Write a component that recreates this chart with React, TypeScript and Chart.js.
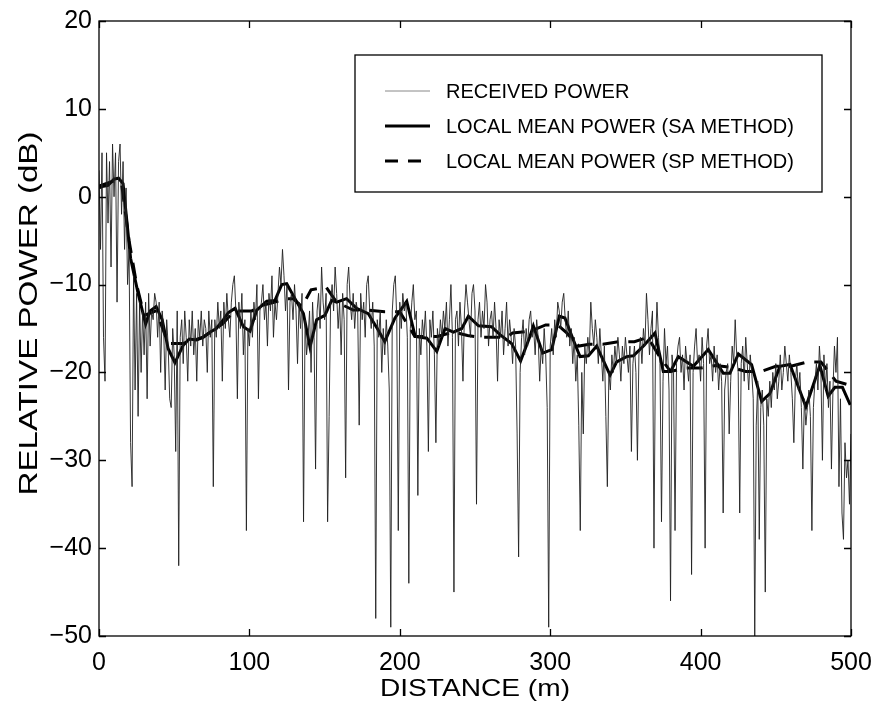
import React, { useEffect, useRef } from 'react';
import { Chart, registerables } from 'chart.js';

Chart.register(...registerables);

// ---------------- data ----------------
const xTickValues = [0, 100, 200, 300, 400, 500];
const yTickValues = [-50, -40, -30, -20, -10, 0, 10, 20];
const xTitle = 'DISTANCE (m)';
const yTitle = 'RELATIVE POWER (dB)';
const seriesLabels = [
  'RECEIVED POWER',
  'LOCAL MEAN POWER (SA METHOD)',
  'LOCAL MEAN POWER (SP METHOD)',
];

// received power, one sample per metre, 0 .. 500 m
const sampleSpacing = 1;
const receivedPower = [
  3, -6, 5, -16, -21, 5, -3, 4, -8, 6,
  0, 5, -12, 4, 6, -2, 4, -6, 1, -10,
  -6, -28, -33, -9, -22, -11, -25, -12, -20, -13,
  -18, -12, -23, -11, -17, -13, -14, -11, -12, -16,
  -12, -20, -13, -15, -22, -14, -17, -23, -24, -15,
  -18, -29, -13, -42, -16, -14, -19, -13, -16, -21,
  -14, -17, -13, -18, -15, -21, -14, -16, -13, -17,
  -14, -15, -20, -13, -16, -14, -33, -14, -16, -12,
  -15, -13, -21, -12, -15, -11, -14, -16, -12, -10,
  -9, -13, -23, -12, -15, -11, -18, -14, -38, -15,
  -17, -13, -16, -12, -14, -10, -23, -13, -12, -10,
  -14, -12, -17, -11, -13, -9, -16, -12, -14, -11,
  -8, -10, -6, -9, -13, -10, -22, -12, -11, -14,
  -10, -13, -19, -12, -15, -11, -37, -14, -18, -16,
  -13, -20, -12, -16, -31, -13, -11, -15, -8, -12,
  -14, -11, -37, -25, -12, -10, -13, -8, -11, -15,
  -12, -18, -11, -14, -32, -10, -8, -12, -14, -11,
  -15, -12, -13, -26, -11, -14, -12, -16, -10, -9,
  -13, -15, -12, -17, -48, -14, -16, -13, -20, -15,
  -18, -14, -17, -22, -49, -13, -10, -9, -14, -38,
  -12, -15, -11, -13, -12, -16, -44, -15, -12, -10,
  -14, -13, -34, -15, -18, -14, -16, -13, -17, -29,
  -14, -16, -13, -18, -28, -15, -17, -14, -16, -13,
  -15, -12, -17, -14, -10, -16, -45, -14, -13, -17,
  -12, -15, -21, -13, -10, -12, -14, -16, -11, -10,
  -13, -35, -14, -12, -16, -13, -15, -10, -12, -17,
  -14, -13, -16, -12, -15, -21, -14, -16, -13, -18,
  -15, -12, -17, -14, -16, -19, -15, -17, -27, -41,
  -20, -16, -14, -18, -15, -17, -14, -13, -16, -15,
  -18, -14, -16, -21, -17, -19, -15, -18, -24, -49,
  -17, -15, -18, -14, -16, -12, -13, -15, -12, -11,
  -14, -16, -13, -17, -15, -19, -16, -21, -18, -26,
  -38, -20, -27, -17, -19, -16, -18, -12, -15, -17,
  -14, -16, -19, -15, -18, -21, -17, -25, -33, -20,
  -22, -18, -20, -17, -19, -16, -18, -21, -17, -19,
  -16, -18, -20, -17, -29, -19, -17, -20, -30, -18,
  -16, -19, -15, -17, -11, -14, -18, -15, -13, -40,
  -17, -12, -16, -19, -37, -21, -15, -19, -17, -22,
  -46, -18, -20, -38, -19, -17, -16, -20, -18, -22,
  -17, -19, -21, -18, -43, -20, -17, -15, -19, -18,
  -21, -16, -19, -40, -17, -15, -19, -18, -21, -17,
  -20, -18, -22, -19, -21, -36, -22, -20, -19, -27,
  -21, -17, -19, -14, -18, -20, -36, -19, -17, -21,
  -16, -19, -22, -18, -20, -23, -50, -26, -21, -39,
  -24, -22, -26, -45, -23, -25, -21, -24, -20, -22,
  -19, -23, -21, -18, -22, -20, -17, -19, -21, -18,
  -20, -23, -28, -21, -19, -22, -20, -24, -31, -23,
  -26, -24, -22, -25, -38, -24, -21, -19, -22, -17,
  -20, -30, -18, -22, -19, -24, -21, -31, -22, -17,
  -20, -16, -33, -23, -36, -39, -28, -32, -30, -35,
  -27,
];

// local mean power, SA method (solid)
const saDistance = [
  0, 3, 6, 10, 13, 16, 21, 26, 31, 34, 38, 42, 46, 50.5, 56, 60, 65, 69.4, 74, 78,
  82.7, 86, 90.5, 96, 100.4, 104.9, 111.5, 117, 121.5, 124.8, 130.3, 135.9, 140.3, 144.7, 150.2, 154.7, 158, 164.6, 171.3, 179,
  185.7, 190, 196.8, 204.6, 210.2, 218, 224.6, 230.1, 235.7, 241.2, 245.6, 252.3, 261, 266.6, 274.3, 280.3, 286.5, 288.8, 295, 301,
  306.1, 309.8, 315.4, 319.8, 325.4, 330.9, 339.8, 344.2, 350.8, 355.3, 362, 369.7, 375.2, 380, 385.2, 395.2, 405.1, 415.1, 419.5, 425.1,
  433.9, 440.6, 446.1, 452.7, 459.4, 470, 479.3, 484.8, 489.3, 494.3, 499.5,
];
const saPower = [
  1.0, 1.2, 1.3, 2.0, 2.1, 1.5, -7, -11, -14.5, -13, -12.5, -14, -17.3, -18.9, -16.9, -16.2, -16.3, -16, -15.4, -15,
  -14, -13.2, -12.7, -14.8, -15.3, -12.9, -11.9, -11.8, -10, -9.9, -11.6, -13.3, -17.1, -14.0, -13.5, -11.8, -12, -11.6, -12.7, -13.3,
  -15.2, -16.5, -13.8, -11.9, -15.9, -16.1, -17.6, -15, -15.4, -15, -13.6, -14.7, -14.8, -15.7, -16.7, -18.7, -15.9, -14.7, -17.8, -17.4,
  -13.6, -13.8, -16.3, -18.2, -18.1, -17.0, -20.3, -18.8, -18.2, -18.1, -17, -15.5, -19.9, -19.9, -18.2, -19.3, -17.4, -20.1, -20.1, -17.9,
  -19.1, -23.3, -22.4, -19.3, -19.1, -23.9, -19.2, -22.7, -21.7, -21.7, -23.7,
];

// local mean power, SP method (dashed)
const spDistance = [
  0, 10, 15, 20, 25, 30, 38, 46, 56, 69, 82, 90, 101.6, 110, 117, 124, 129, 135, 141, 151,
  158, 169, 179, 190, 200, 210, 225, 235.7, 245, 254, 271, 275, 287, 297, 305, 311, 319, 326, 335, 346,
  356, 365, 372, 380, 390, 400, 410, 420, 430, 440, 450, 460, 471, 480, 490, 500,
];
const spPower = [
  1.2, 1.8, 1.5, -5, -10, -13.5, -13, -16.7, -16.7, -16, -14.5, -13, -13, -12.3, -12, -11.6, -11.6, -12.5, -10.6, -10.3,
  -12, -12.9, -12.9, -13.1, -13.1, -15.9, -15.9, -15.4, -15.8, -16, -16, -15.5, -15.3, -14.6, -14.6, -15.5, -17, -16.8, -16.8, -16.5,
  -16.5, -16, -18, -19.9, -19.5, -19.5, -19.2, -19.4, -19.9, -19.9, -19.3, -19.3, -18.8, -18.8, -21, -21.5,
];

// ---------------- styling ----------------
const FONT = "'Liberation Sans', Arial, Helvetica, sans-serif";
const RECEIVED_COLOR = '#202020';
const MEAN_COLOR = '#000000';
const DASH = [16, 10];

const minus = (v: number | string) => String(v).replace('-', '\u2212');

const drawStretched = (
  ctx: CanvasRenderingContext2D,
  text: string,
  cx: number,
  cy: number,
  length: number,
  size: number,
  rotation: number
) => {
  ctx.save();
  ctx.translate(cx, cy);
  ctx.rotate(rotation);
  ctx.font = `${size}px ${FONT}`;
  const w = ctx.measureText(text).width;
  ctx.scale(length / w, 1);
  ctx.fillStyle = '#000';
  ctx.textAlign = 'center';
  ctx.textBaseline = 'middle';
  ctx.fillText(text, 0, 0);
  ctx.restore();
};

const framePlugin = {
  id: 'matlabFrame',
  afterDatasetsDraw(chart: any) {
    const { ctx, chartArea, scales } = chart;
    const { left, right, top, bottom } = chartArea;
    const t = 7;
    ctx.save();
    ctx.strokeStyle = '#000';
    ctx.lineWidth = 1.3;
    ctx.beginPath();
    scales.x.ticks.forEach((tk: any) => {
      const px = Math.round(scales.x.getPixelForValue(tk.value)) + 0.5;
      ctx.moveTo(px, bottom);
      ctx.lineTo(px, bottom - t);
      ctx.moveTo(px, top);
      ctx.lineTo(px, top + t);
    });
    scales.y.ticks.forEach((tk: any) => {
      const py = Math.round(scales.y.getPixelForValue(tk.value)) + 0.5;
      ctx.moveTo(left, py);
      ctx.lineTo(left + t, py);
      ctx.moveTo(right, py);
      ctx.lineTo(right - t, py);
    });
    ctx.stroke();
    ctx.strokeRect(left, top, right - left, bottom - top);
    ctx.restore();

    // axis titles
    const cxTitle = (left + right) / 2;
    drawStretched(ctx, xTitle, cxTitle, bottom + 53, 190, 24, 0);
    drawStretched(ctx, yTitle, left - 69, (top + bottom) / 2 - 15, 364, 25, -Math.PI / 2);
  },
};

const legendPlugin = {
  id: 'boxLegend',
  afterDraw(chart: any) {
    const { ctx, chartArea } = chart;
    const bx = chartArea.left + 256;
    const by = chartArea.top + 34;
    const bw = 467;
    const bh = 137;
    ctx.save();
    ctx.fillStyle = '#fff';
    ctx.fillRect(bx, by, bw, bh);
    ctx.strokeStyle = '#000';
    ctx.lineWidth = 1.3;
    ctx.strokeRect(bx, by, bw, bh);
    const rows = [by + 36, by + 71, by + 106];
    chart.data.datasets.forEach((ds: any, i: number) => {
      const y = rows[i];
      ctx.beginPath();
      ctx.strokeStyle = i === 0 ? '#888' : '#000';
      ctx.lineWidth = i === 0 ? 1 : 3;
      ctx.setLineDash(i === 2 ? [13, 10] : []);
      ctx.moveTo(bx + 30, y);
      ctx.lineTo(bx + 75, y);
      ctx.stroke();
      ctx.setLineDash([]);
      ctx.fillStyle = '#000';
      ctx.font = `20px ${FONT}`;
      ctx.textBaseline = 'middle';
      ctx.textAlign = 'left';
      ctx.fillText(ds.label, bx + 91, y + 1);
    });
    ctx.restore();
  },
};

export default function App() {
  const canvasRef = useRef<HTMLCanvasElement | null>(null);

  useEffect(() => {
    if (!canvasRef.current) return;
    const received = receivedPower.map((v, i) => ({ x: i * sampleSpacing, y: v }));
    const sa = saDistance.map((d, i) => ({ x: d, y: saPower[i] }));
    const sp = spDistance.map((d, i) => ({ x: d, y: spPower[i] }));

    const chart = new Chart(canvasRef.current, {
      type: 'line',
      data: {
        datasets: [
          {
            label: seriesLabels[0],
            data: received,
            borderColor: RECEIVED_COLOR,
            borderWidth: 0.9,
            pointRadius: 0,
            tension: 0,
          },
          {
            label: seriesLabels[1],
            data: sa,
            borderColor: MEAN_COLOR,
            borderWidth: 3,
            pointRadius: 0,
            tension: 0,
          },
          {
            label: seriesLabels[2],
            data: sp,
            borderColor: MEAN_COLOR,
            borderWidth: 3,
            borderDash: DASH,
            pointRadius: 0,
            tension: 0,
          },
        ],
      },
      options: {
        animation: false,
        responsive: false,
        maintainAspectRatio: false,
        layout: { padding: { top: 21, right: 26, left: 0, bottom: 0 } },
        plugins: {
          legend: { display: false },
          tooltip: { enabled: false },
        },
        scales: {
          x: {
            type: 'linear',
            min: 0,
            max: 500,
            afterBuildTicks: (s: any) => {
              s.ticks = xTickValues.map((v) => ({ value: v }));
            },
            afterFit: (s: any) => {
              s.height = 71;
              s.paddingLeft = 0;
              s.paddingRight = 0;
            },
            grid: { display: false, drawTicks: false },
            border: { display: false },
            ticks: {
              color: '#000',
              font: { family: FONT, size: 25 },
              padding: 12,
              maxRotation: 0,
            },
            title: { display: false },
          },
          y: {
            type: 'linear',
            min: -50,
            max: 20,
            afterBuildTicks: (s: any) => {
              s.ticks = yTickValues.map((v) => ({ value: v }));
            },
            afterFit: (s: any) => {
              s.width = 99;
              s.paddingTop = 0;
              s.paddingBottom = 0;
            },
            grid: { display: false, drawTicks: false },
            border: { display: false },
            ticks: {
              color: '#000',
              font: { family: FONT, size: 25 },
              padding: 7,
              callback: (v: any) => minus(v),
            },
            title: { display: false },
          },
        },
      },
      plugins: [framePlugin, legendPlugin],
    });
    return () => chart.destroy();
  }, []);

  return (
    <div style={{ position: 'fixed', left: 0, top: 0, width: 877, height: 707, background: '#fff' }}>
      <canvas ref={canvasRef} width={877} height={707} style={{ display: 'block' }} />
    </div>
  );
}
